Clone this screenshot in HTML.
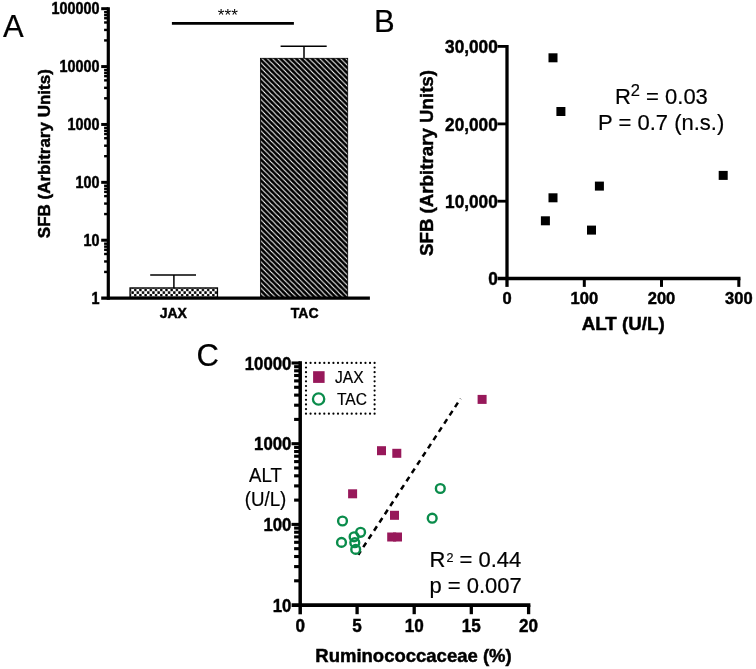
<!DOCTYPE html>
<html><head><meta charset="utf-8"><title>Figure</title>
<style>html,body{margin:0;padding:0;background:#fff;}svg{display:block;will-change:transform;font-family:"Liberation Sans", sans-serif;}text{stroke:#000;stroke-width:0.2px;}text[font-weight=bold]{stroke-width:0.45px;}</style>
</head><body>
<svg width="756" height="669" viewBox="0 0 756 669">
<defs>
<pattern id="hatch" patternUnits="userSpaceOnUse" width="5.24" height="5.24" x="261.45" y="58">
<rect width="5.24" height="5.24" fill="#000"/>
<path d="M-5.24,-5.24 L10.48,10.48 M-5.24,0 L5.24,10.48 M0,-5.24 L10.48,5.24" stroke="#fff" stroke-width="1.05"/>
</pattern>
<pattern id="check" patternUnits="userSpaceOnUse" width="5.21" height="5.3" x="131.3" y="288.6">
<rect width="5.21" height="5.3" fill="#fff"/>
<rect x="2.705" y="0.1" width="2.405" height="2.4499999999999997" rx="0.5" fill="#000"/>
<rect x="0.1" y="2.75" width="2.405" height="2.4499999999999997" rx="0.5" fill="#000"/>
</pattern>
</defs>
<rect width="756" height="669" fill="#fff"/>
<text x="3.00" y="37.00" font-size="31" text-anchor="start" >A</text>
<text x="373.90" y="31.90" font-size="31" text-anchor="start" >B</text>
<text x="196.60" y="365.80" font-size="31" text-anchor="start" >C</text>
<g id="panelA">
<rect x="130.05" y="287.95" width="87.4" height="10.15" fill="url(#check)" stroke="#000" stroke-width="1.3"/>
<rect x="260.4" y="58.3" width="87.3" height="239.80" fill="url(#hatch)" stroke="#000" stroke-width="0.8"/>
<line x1="173.90" y1="275.00" x2="173.90" y2="288.00" stroke="#000" stroke-width="1.5" />
<line x1="150.20" y1="275.00" x2="196.00" y2="275.00" stroke="#000" stroke-width="1.6" />
<line x1="304.00" y1="46.30" x2="304.00" y2="58.00" stroke="#000" stroke-width="1.5" />
<line x1="280.60" y1="46.30" x2="326.70" y2="46.30" stroke="#000" stroke-width="1.6" />
<line x1="108.30" y1="7.30" x2="108.30" y2="299.65" stroke="#000" stroke-width="3.2" />
<line x1="101.20" y1="298.10" x2="369.90" y2="298.10" stroke="#000" stroke-width="3.1" />
<line x1="104.10" y1="271.94" x2="108.30" y2="271.94" stroke="#000" stroke-width="2.4" />
<line x1="104.10" y1="261.46" x2="108.30" y2="261.46" stroke="#000" stroke-width="2.4" />
<line x1="104.10" y1="254.00" x2="108.30" y2="254.00" stroke="#000" stroke-width="2.4" />
<line x1="104.10" y1="249.77" x2="108.30" y2="249.77" stroke="#000" stroke-width="2.4" />
<line x1="104.10" y1="246.64" x2="108.30" y2="246.64" stroke="#000" stroke-width="2.4" />
<line x1="104.10" y1="243.69" x2="108.30" y2="243.69" stroke="#000" stroke-width="2.4" />
<text transform="translate(99.60,303.60) scale(0.923,1)" font-size="15.6" font-weight="bold" text-anchor="end" >1</text>
<line x1="101.20" y1="240.22" x2="108.30" y2="240.22" stroke="#000" stroke-width="3.0" />
<line x1="104.10" y1="214.06" x2="108.30" y2="214.06" stroke="#000" stroke-width="2.4" />
<line x1="104.10" y1="203.58" x2="108.30" y2="203.58" stroke="#000" stroke-width="2.4" />
<line x1="104.10" y1="196.12" x2="108.30" y2="196.12" stroke="#000" stroke-width="2.4" />
<line x1="104.10" y1="191.89" x2="108.30" y2="191.89" stroke="#000" stroke-width="2.4" />
<line x1="104.10" y1="188.76" x2="108.30" y2="188.76" stroke="#000" stroke-width="2.4" />
<line x1="104.10" y1="185.81" x2="108.30" y2="185.81" stroke="#000" stroke-width="2.4" />
<text transform="translate(99.60,245.72) scale(0.923,1)" font-size="15.6" font-weight="bold" text-anchor="end" >10</text>
<line x1="101.20" y1="182.34" x2="108.30" y2="182.34" stroke="#000" stroke-width="3.0" />
<line x1="104.10" y1="156.18" x2="108.30" y2="156.18" stroke="#000" stroke-width="2.4" />
<line x1="104.10" y1="145.70" x2="108.30" y2="145.70" stroke="#000" stroke-width="2.4" />
<line x1="104.10" y1="138.24" x2="108.30" y2="138.24" stroke="#000" stroke-width="2.4" />
<line x1="104.10" y1="134.01" x2="108.30" y2="134.01" stroke="#000" stroke-width="2.4" />
<line x1="104.10" y1="130.88" x2="108.30" y2="130.88" stroke="#000" stroke-width="2.4" />
<line x1="104.10" y1="127.93" x2="108.30" y2="127.93" stroke="#000" stroke-width="2.4" />
<text transform="translate(99.60,187.84) scale(0.923,1)" font-size="15.6" font-weight="bold" text-anchor="end" >100</text>
<line x1="101.20" y1="124.46" x2="108.30" y2="124.46" stroke="#000" stroke-width="3.0" />
<line x1="104.10" y1="98.30" x2="108.30" y2="98.30" stroke="#000" stroke-width="2.4" />
<line x1="104.10" y1="87.82" x2="108.30" y2="87.82" stroke="#000" stroke-width="2.4" />
<line x1="104.10" y1="80.36" x2="108.30" y2="80.36" stroke="#000" stroke-width="2.4" />
<line x1="104.10" y1="76.13" x2="108.30" y2="76.13" stroke="#000" stroke-width="2.4" />
<line x1="104.10" y1="73.00" x2="108.30" y2="73.00" stroke="#000" stroke-width="2.4" />
<line x1="104.10" y1="70.05" x2="108.30" y2="70.05" stroke="#000" stroke-width="2.4" />
<text transform="translate(99.60,129.96) scale(0.923,1)" font-size="15.6" font-weight="bold" text-anchor="end" >1000</text>
<line x1="101.20" y1="66.58" x2="108.30" y2="66.58" stroke="#000" stroke-width="3.0" />
<line x1="104.10" y1="40.42" x2="108.30" y2="40.42" stroke="#000" stroke-width="2.4" />
<line x1="104.10" y1="29.94" x2="108.30" y2="29.94" stroke="#000" stroke-width="2.4" />
<line x1="104.10" y1="22.48" x2="108.30" y2="22.48" stroke="#000" stroke-width="2.4" />
<line x1="104.10" y1="18.25" x2="108.30" y2="18.25" stroke="#000" stroke-width="2.4" />
<line x1="104.10" y1="15.12" x2="108.30" y2="15.12" stroke="#000" stroke-width="2.4" />
<line x1="104.10" y1="12.17" x2="108.30" y2="12.17" stroke="#000" stroke-width="2.4" />
<text transform="translate(99.60,72.08) scale(0.923,1)" font-size="15.6" font-weight="bold" text-anchor="end" >10000</text>
<line x1="101.20" y1="8.70" x2="108.30" y2="8.70" stroke="#000" stroke-width="3.0" />
<text transform="translate(99.60,14.20) scale(0.923,1)" font-size="15.6" font-weight="bold" text-anchor="end" >100000</text>
<line x1="171.90" y1="23.40" x2="293.90" y2="23.40" stroke="#000" stroke-width="2.7" />
<text x="227.90" y="20.80" font-size="17.2" text-anchor="middle" style="stroke:none">***</text>
<text x="173.30" y="318.40" font-size="14" font-weight="bold" text-anchor="middle" >JAX</text>
<text x="304.70" y="318.40" font-size="14" font-weight="bold" text-anchor="middle" >TAC</text>
<text transform="translate(50.2,153.7) rotate(-90)" font-size="16" font-weight="bold" text-anchor="middle" textLength="169" lengthAdjust="spacingAndGlyphs">SFB (Arbitrary Units)</text>
</g>
<g id="panelB">
<line x1="507.00" y1="45.00" x2="507.00" y2="286.90" stroke="#000" stroke-width="3.3" />
<line x1="497.60" y1="278.50" x2="740.50" y2="278.50" stroke="#000" stroke-width="3.3" />
<text transform="translate(497.70,285.10) scale(0.956,1)" font-size="18" font-weight="bold" text-anchor="end" >0</text>
<line x1="497.50" y1="201.20" x2="507.00" y2="201.20" stroke="#000" stroke-width="2.8" />
<text transform="translate(497.70,207.80) scale(0.956,1)" font-size="18" font-weight="bold" text-anchor="end" >10,000</text>
<line x1="497.50" y1="123.90" x2="507.00" y2="123.90" stroke="#000" stroke-width="2.8" />
<text transform="translate(497.70,130.50) scale(0.956,1)" font-size="18" font-weight="bold" text-anchor="end" >20,000</text>
<line x1="497.50" y1="46.40" x2="507.00" y2="46.40" stroke="#000" stroke-width="2.8" />
<text transform="translate(497.70,53.00) scale(0.956,1)" font-size="18" font-weight="bold" text-anchor="end" >30,000</text>
<text x="507.00" y="304.00" font-size="16.5" font-weight="bold" text-anchor="middle" >0</text>
<line x1="584.30" y1="278.50" x2="584.30" y2="286.90" stroke="#000" stroke-width="3.0" />
<text x="584.30" y="304.00" font-size="16.5" font-weight="bold" text-anchor="middle" >100</text>
<line x1="661.50" y1="278.50" x2="661.50" y2="286.90" stroke="#000" stroke-width="3.0" />
<text x="661.50" y="304.00" font-size="16.5" font-weight="bold" text-anchor="middle" >200</text>
<line x1="738.80" y1="278.50" x2="738.80" y2="286.90" stroke="#000" stroke-width="3.0" />
<text x="738.80" y="304.00" font-size="16.5" font-weight="bold" text-anchor="middle" >300</text>
<text x="623.20" y="330.00" font-size="17.5" font-weight="bold" text-anchor="middle" textLength="83" lengthAdjust="spacingAndGlyphs" >ALT (U/L)</text>
<text transform="translate(432.5,163) rotate(-90)" font-size="19.2" font-weight="bold" text-anchor="middle" textLength="186" lengthAdjust="spacingAndGlyphs">SFB (Arbitrary Units)</text>
<rect x="548.50" y="53.30" width="9" height="9" fill="#000"/>
<rect x="556.40" y="107.00" width="9" height="9" fill="#000"/>
<rect x="718.70" y="170.90" width="9" height="9" fill="#000"/>
<rect x="594.90" y="181.60" width="9" height="9" fill="#000"/>
<rect x="548.50" y="193.30" width="9" height="9" fill="#000"/>
<rect x="540.90" y="216.30" width="9" height="9" fill="#000"/>
<rect x="587.00" y="225.60" width="9" height="9" fill="#000"/>
<text x="614.9" y="103.8" font-size="22">R<tspan font-size="16.5" dy="-7.6">2</tspan><tspan dy="7.6"> = 0.03</tspan></text>
<text x="598.10" y="129.70" font-size="22" text-anchor="start" >P = 0.7 (n.s.)</text>
</g>
<g id="panelC">
<circle cx="306.00" cy="362.90" r="1.1" fill="#000"/>
<circle cx="310.57" cy="362.90" r="1.1" fill="#000"/>
<circle cx="315.15" cy="362.90" r="1.1" fill="#000"/>
<circle cx="319.72" cy="362.90" r="1.1" fill="#000"/>
<circle cx="324.29" cy="362.90" r="1.1" fill="#000"/>
<circle cx="328.87" cy="362.90" r="1.1" fill="#000"/>
<circle cx="333.44" cy="362.90" r="1.1" fill="#000"/>
<circle cx="338.01" cy="362.90" r="1.1" fill="#000"/>
<circle cx="342.59" cy="362.90" r="1.1" fill="#000"/>
<circle cx="347.16" cy="362.90" r="1.1" fill="#000"/>
<circle cx="351.73" cy="362.90" r="1.1" fill="#000"/>
<circle cx="356.31" cy="362.90" r="1.1" fill="#000"/>
<circle cx="360.88" cy="362.90" r="1.1" fill="#000"/>
<circle cx="365.45" cy="362.90" r="1.1" fill="#000"/>
<circle cx="370.03" cy="362.90" r="1.1" fill="#000"/>
<circle cx="374.60" cy="362.90" r="1.1" fill="#000"/>
<circle cx="374.60" cy="367.52" r="1.1" fill="#000"/>
<circle cx="374.60" cy="372.14" r="1.1" fill="#000"/>
<circle cx="374.60" cy="376.75" r="1.1" fill="#000"/>
<circle cx="374.60" cy="381.37" r="1.1" fill="#000"/>
<circle cx="374.60" cy="385.99" r="1.1" fill="#000"/>
<circle cx="374.60" cy="390.61" r="1.1" fill="#000"/>
<circle cx="374.60" cy="395.23" r="1.1" fill="#000"/>
<circle cx="374.60" cy="399.85" r="1.1" fill="#000"/>
<circle cx="374.60" cy="404.46" r="1.1" fill="#000"/>
<circle cx="374.60" cy="409.08" r="1.1" fill="#000"/>
<circle cx="374.60" cy="413.70" r="1.1" fill="#000"/>
<circle cx="370.03" cy="413.70" r="1.1" fill="#000"/>
<circle cx="365.45" cy="413.70" r="1.1" fill="#000"/>
<circle cx="360.88" cy="413.70" r="1.1" fill="#000"/>
<circle cx="356.31" cy="413.70" r="1.1" fill="#000"/>
<circle cx="351.73" cy="413.70" r="1.1" fill="#000"/>
<circle cx="347.16" cy="413.70" r="1.1" fill="#000"/>
<circle cx="342.59" cy="413.70" r="1.1" fill="#000"/>
<circle cx="338.01" cy="413.70" r="1.1" fill="#000"/>
<circle cx="333.44" cy="413.70" r="1.1" fill="#000"/>
<circle cx="328.87" cy="413.70" r="1.1" fill="#000"/>
<circle cx="324.29" cy="413.70" r="1.1" fill="#000"/>
<circle cx="319.72" cy="413.70" r="1.1" fill="#000"/>
<circle cx="315.15" cy="413.70" r="1.1" fill="#000"/>
<circle cx="310.57" cy="413.70" r="1.1" fill="#000"/>
<circle cx="306.00" cy="413.70" r="1.1" fill="#000"/>
<circle cx="306.00" cy="409.08" r="1.1" fill="#000"/>
<circle cx="306.00" cy="404.46" r="1.1" fill="#000"/>
<circle cx="306.00" cy="399.85" r="1.1" fill="#000"/>
<circle cx="306.00" cy="395.23" r="1.1" fill="#000"/>
<circle cx="306.00" cy="390.61" r="1.1" fill="#000"/>
<circle cx="306.00" cy="385.99" r="1.1" fill="#000"/>
<circle cx="306.00" cy="381.37" r="1.1" fill="#000"/>
<circle cx="306.00" cy="376.75" r="1.1" fill="#000"/>
<circle cx="306.00" cy="372.14" r="1.1" fill="#000"/>
<circle cx="306.00" cy="367.52" r="1.1" fill="#000"/>
<rect x="313.1" y="371.2" width="11.5" height="11.7" fill="#97185a"/>
<circle cx="318.6" cy="399" r="5.65" fill="none" stroke="#0a8c4b" stroke-width="2.3"/>
<text x="335.00" y="382.70" font-size="15.6" text-anchor="start" >JAX</text>
<text x="337.00" y="405.00" font-size="15.6" text-anchor="start" >TAC</text>
<line x1="358.3" y1="554.7" x2="460.6" y2="398.6" stroke="#000" stroke-width="2.5" stroke-dasharray="5.3 4.55" stroke-dashoffset="0.85"/>
<rect x="477.60" y="394.90" width="9" height="9" fill="#97185a"/>
<rect x="377.00" y="446.20" width="9" height="9" fill="#97185a"/>
<rect x="392.30" y="448.80" width="9" height="9" fill="#97185a"/>
<rect x="348.10" y="489.30" width="9" height="9" fill="#97185a"/>
<rect x="390.00" y="510.80" width="9" height="9" fill="#97185a"/>
<rect x="387.20" y="532.50" width="9" height="9" fill="#97185a"/>
<rect x="393.00" y="532.50" width="9" height="9" fill="#97185a"/>
<circle cx="440.3" cy="488.5" r="4.4" fill="none" stroke="#0a8c4b" stroke-width="2.4"/>
<circle cx="432.2" cy="518.2" r="4.4" fill="none" stroke="#0a8c4b" stroke-width="2.4"/>
<circle cx="342.5" cy="521.0" r="4.4" fill="none" stroke="#0a8c4b" stroke-width="2.4"/>
<circle cx="360.6" cy="532.3" r="4.4" fill="none" stroke="#0a8c4b" stroke-width="2.4"/>
<circle cx="354.1" cy="536.8" r="4.4" fill="none" stroke="#0a8c4b" stroke-width="2.4"/>
<circle cx="341.5" cy="542.4" r="4.4" fill="none" stroke="#0a8c4b" stroke-width="2.4"/>
<circle cx="354.8" cy="542.7" r="4.4" fill="none" stroke="#0a8c4b" stroke-width="2.4"/>
<circle cx="355.7" cy="549.4" r="4.4" fill="none" stroke="#0a8c4b" stroke-width="2.4"/>
<line x1="300.20" y1="361.20" x2="300.20" y2="614.30" stroke="#000" stroke-width="3.5" />
<line x1="291.60" y1="605.10" x2="530.40" y2="605.10" stroke="#000" stroke-width="3.6" />
<line x1="294.10" y1="580.81" x2="300.20" y2="580.81" stroke="#000" stroke-width="3.1" />
<line x1="294.10" y1="566.60" x2="300.20" y2="566.60" stroke="#000" stroke-width="3.1" />
<line x1="294.10" y1="556.51" x2="300.20" y2="556.51" stroke="#000" stroke-width="3.1" />
<line x1="294.10" y1="548.69" x2="300.20" y2="548.69" stroke="#000" stroke-width="3.1" />
<line x1="294.10" y1="542.30" x2="300.20" y2="542.30" stroke="#000" stroke-width="3.1" />
<line x1="294.10" y1="536.90" x2="300.20" y2="536.90" stroke="#000" stroke-width="3.1" />
<line x1="294.10" y1="532.22" x2="300.20" y2="532.22" stroke="#000" stroke-width="3.1" />
<line x1="294.10" y1="528.09" x2="300.20" y2="528.09" stroke="#000" stroke-width="3.1" />
<text transform="translate(291.40,611.70) scale(0.917,1)" font-size="18.3" font-weight="bold" text-anchor="end" >10</text>
<line x1="291.50" y1="524.40" x2="300.20" y2="524.40" stroke="#000" stroke-width="3.1" />
<line x1="294.10" y1="500.11" x2="300.20" y2="500.11" stroke="#000" stroke-width="3.1" />
<line x1="294.10" y1="485.90" x2="300.20" y2="485.90" stroke="#000" stroke-width="3.1" />
<line x1="294.10" y1="475.81" x2="300.20" y2="475.81" stroke="#000" stroke-width="3.1" />
<line x1="294.10" y1="467.99" x2="300.20" y2="467.99" stroke="#000" stroke-width="3.1" />
<line x1="294.10" y1="461.60" x2="300.20" y2="461.60" stroke="#000" stroke-width="3.1" />
<line x1="294.10" y1="456.20" x2="300.20" y2="456.20" stroke="#000" stroke-width="3.1" />
<line x1="294.10" y1="451.52" x2="300.20" y2="451.52" stroke="#000" stroke-width="3.1" />
<line x1="294.10" y1="447.39" x2="300.20" y2="447.39" stroke="#000" stroke-width="3.1" />
<text transform="translate(291.40,531.00) scale(0.917,1)" font-size="18.3" font-weight="bold" text-anchor="end" >100</text>
<line x1="291.50" y1="443.70" x2="300.20" y2="443.70" stroke="#000" stroke-width="3.1" />
<line x1="294.10" y1="419.41" x2="300.20" y2="419.41" stroke="#000" stroke-width="3.1" />
<line x1="294.10" y1="405.20" x2="300.20" y2="405.20" stroke="#000" stroke-width="3.1" />
<line x1="294.10" y1="395.11" x2="300.20" y2="395.11" stroke="#000" stroke-width="3.1" />
<line x1="294.10" y1="387.29" x2="300.20" y2="387.29" stroke="#000" stroke-width="3.1" />
<line x1="294.10" y1="380.90" x2="300.20" y2="380.90" stroke="#000" stroke-width="3.1" />
<line x1="294.10" y1="375.50" x2="300.20" y2="375.50" stroke="#000" stroke-width="3.1" />
<line x1="294.10" y1="370.82" x2="300.20" y2="370.82" stroke="#000" stroke-width="3.1" />
<line x1="294.10" y1="366.69" x2="300.20" y2="366.69" stroke="#000" stroke-width="3.1" />
<text transform="translate(291.40,450.30) scale(0.917,1)" font-size="18.3" font-weight="bold" text-anchor="end" >1000</text>
<line x1="291.50" y1="363.00" x2="300.20" y2="363.00" stroke="#000" stroke-width="3.1" />
<text transform="translate(291.40,369.60) scale(0.917,1)" font-size="18.3" font-weight="bold" text-anchor="end" >10000</text>
<text transform="translate(300.20,631.80) scale(0.93,1)" font-size="18.4" font-weight="bold" text-anchor="middle" >0</text>
<line x1="357.10" y1="605.10" x2="357.10" y2="614.20" stroke="#000" stroke-width="3.3" />
<text transform="translate(357.10,631.80) scale(0.93,1)" font-size="18.4" font-weight="bold" text-anchor="middle" >5</text>
<line x1="414.20" y1="605.10" x2="414.20" y2="614.20" stroke="#000" stroke-width="3.3" />
<text transform="translate(414.20,631.80) scale(0.93,1)" font-size="18.4" font-weight="bold" text-anchor="middle" >10</text>
<line x1="471.30" y1="605.10" x2="471.30" y2="614.20" stroke="#000" stroke-width="3.3" />
<text transform="translate(471.30,631.80) scale(0.93,1)" font-size="18.4" font-weight="bold" text-anchor="middle" >15</text>
<line x1="528.60" y1="605.10" x2="528.60" y2="614.20" stroke="#000" stroke-width="3.3" />
<text transform="translate(528.60,631.80) scale(0.93,1)" font-size="18.4" font-weight="bold" text-anchor="middle" >20</text>
<text x="413.50" y="661.50" font-size="18.5" font-weight="bold" text-anchor="middle" >Ruminococcaceae (%)</text>
<text transform="translate(265.40,482.40) scale(0.955,1)" font-size="19.5" text-anchor="middle" >ALT</text>
<text transform="translate(265.50,505.90) scale(0.955,1)" font-size="19.6" text-anchor="middle" >(U/L)</text>
<text x="429.5" y="567.2" font-size="22">R<tspan font-size="12.5" dx="1.0" dy="-5.5">2</tspan><tspan dy="5.5"> = 0.44</tspan></text>
<text x="429.40" y="592.60" font-size="22" text-anchor="start" >p = 0.007</text>
</g>
</svg></body></html>
